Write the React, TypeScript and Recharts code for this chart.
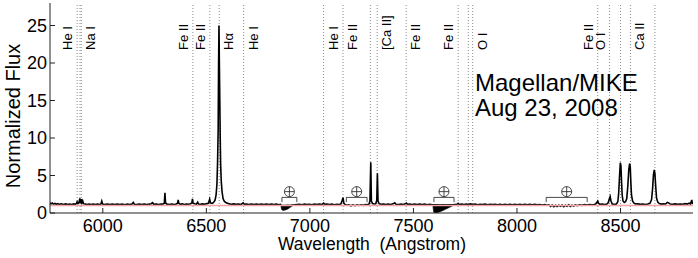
import { ComposedChart, Line, Area, XAxis, YAxis, ReferenceLine, ReferenceDot } from "recharts";

const FONT = "'Liberation Sans', Arial, Helvetica, sans-serif";

// spectrum, wavelength (Angstrom) and normalized flux
const specWave = [
  5745, 5750, 5756, 5762, 5769, 5776, 5783, 5791, 5800, 5810,
  5820, 5830, 5840, 5850, 5860, 5868, 5873, 5876, 5880, 5885,
  5889, 5892, 5896, 5899, 5903, 5907, 5914, 5924, 5934, 5944,
  5954, 5964, 5974, 5984, 5991, 5995, 5999, 6010, 6022, 6034,
  6046, 6058, 6070, 6082, 6094, 6106, 6118, 6130, 6141, 6147,
  6152, 6164, 6176, 6188, 6200, 6212, 6224, 6234, 6240, 6246,
  6258, 6270, 6282, 6292, 6297, 6300, 6303, 6310, 6321, 6332,
  6344, 6355, 6361, 6364, 6367, 6374, 6384, 6394, 6404, 6414,
  6424, 6430, 6433, 6436, 6443, 6452, 6458, 6462, 6472, 6482,
  6492, 6502, 6510, 6516, 6520, 6528, 6535, 6542, 6547, 6551,
  6554, 6557, 6559, 6561, 6563, 6565, 6567, 6569, 6572, 6576,
  6581, 6587, 6594, 6602, 6611, 6621, 6632, 6644, 6656, 6668,
  6678, 6683, 6694, 6706, 6718, 6730, 6742, 6754, 6766, 6778,
  6790, 6802, 6814, 6826, 6838, 6850, 6858, 6864, 6870, 6880,
  6892, 6904, 6916, 6926, 6938, 6950, 6962, 6974, 6986, 6998,
  7010, 7022, 7034, 7046, 7058, 7066, 7071, 7082, 7094, 7106,
  7118, 7130, 7142, 7150, 7155, 7160, 7164, 7170, 7178, 7188,
  7198, 7208, 7218, 7228, 7238, 7248, 7258, 7268, 7278, 7286,
  7290, 7294, 7297, 7302, 7310, 7318, 7323, 7326, 7329, 7335,
  7345, 7356, 7367, 7378, 7390, 7402, 7410, 7416, 7428, 7440,
  7451, 7461, 7466, 7471, 7482, 7494, 7506, 7518, 7530, 7542,
  7554, 7566, 7578, 7590, 7600, 7615, 7630, 7645, 7660, 7675,
  7690, 7700, 7710, 7716, 7721, 7732, 7744, 7756, 7766, 7776,
  7786, 7798, 7810, 7822, 7834, 7846, 7858, 7870, 7882, 7894,
  7906, 7918, 7930, 7942, 7954, 7966, 7978, 7990, 8002, 8014,
  8026, 8038, 8050, 8062, 8074, 8086, 8098, 8110, 8122, 8134,
  8144, 8154, 8162, 8170, 8178, 8186, 8194, 8202, 8210, 8218,
  8226, 8234, 8242, 8250, 8258, 8266, 8274, 8282, 8292, 8302,
  8314, 8326, 8338, 8350, 8362, 8372, 8380, 8386, 8390, 8394,
  8400, 8412, 8424, 8434, 8441, 8446, 8450, 8454, 8460, 8470,
  8480, 8487, 8491, 8495, 8499, 8502, 8505, 8508, 8512, 8518,
  8524, 8530, 8535, 8540, 8544, 8547, 8550, 8553, 8558, 8564,
  8572, 8584, 8596, 8608, 8620, 8632, 8642, 8650, 8655, 8659,
  8663, 8666, 8670, 8674, 8680, 8687, 8697, 8708, 8718, 8726,
  8732, 8740, 8752, 8764, 8776, 8788, 8800, 8812, 8822, 8832,
  8838, 8844, 8847, 8850,
];
const specFlux = [
  1.38, 1.22, 1.32, 1.18, 1.27, 1.16, 1.24, 1.15, 1.23, 1.14,
  1.21, 1.13, 1.2, 1.14, 1.21, 1.16, 1.3, 1.5, 1.24, 1.38,
  1.95, 1.3, 1.85, 1.35, 1.62, 1.24, 1.19, 1.12, 1.2, 1.14,
  1.2, 1.12, 1.18, 1.13, 1.2, 1.58, 1.18, 1.13, 1.2, 1.12,
  1.18, 1.13, 1.2, 1.12, 1.18, 1.11, 1.19, 1.13, 1.2, 1.42,
  1.17, 1.12, 1.19, 1.13, 1.2, 1.12, 1.18, 1.24, 1.38, 1.16,
  1.2, 1.12, 1.18, 1.21, 1.3, 2.7, 1.35, 1.18, 1.13, 1.2,
  1.14, 1.2, 1.3, 1.75, 1.3, 1.16, 1.22, 1.14, 1.2, 1.16,
  1.22, 1.35, 1.9, 1.3, 1.24, 1.18, 1.45, 1.2, 1.15, 1.22,
  1.17, 1.25, 1.3, 1.85, 1.35, 1.28, 1.4, 1.7, 2.4, 3.8,
  6.5, 11, 19.5, 25, 19.6, 15, 10, 6.5, 4.2, 2.8,
  1.9, 1.55, 1.4, 1.3, 1.22, 1.17, 1.22, 1.15, 1.2, 1.14,
  1.36, 1.17, 1.2, 1.13, 1.19, 1.14, 1.2, 1.13, 1.18, 1.12,
  1.18, 1.13, 1.2, 1.14, 1.18, 1.11, 1.15, 0.95, 1.0, 0.98,
  1.02, 1.0, 1.05, 1.08, 1.12, 1.15, 1.11, 1.18, 1.12, 1.17,
  1.11, 1.18, 1.13, 1.19, 1.13, 1.32, 1.15, 1.18, 1.12, 1.18,
  1.11, 1.17, 1.12, 1.2, 1.6, 2.05, 1.3, 1.12, 1.02, 1.1,
  0.96, 1.08, 0.98, 1.1, 1.0, 1.1, 1.02, 1.12, 1.1, 1.2,
  1.6, 6.75, 1.6, 1.25, 1.2, 1.24, 1.7, 5.3, 1.6, 1.22,
  1.16, 1.2, 1.13, 1.19, 1.14, 1.22, 1.35, 1.17, 1.14, 1.2,
  1.13, 1.22, 1.32, 1.15, 1.2, 1.12, 1.18, 1.13, 1.2, 1.13,
  1.18, 1.11, 1.16, 1.1, 1.08, 1.1, 1.06, 1.1, 1.07, 1.1,
  1.08, 1.12, 1.16, 1.3, 1.14, 1.19, 1.13, 1.18, 1.12, 1.21,
  1.13, 1.18, 1.11, 1.17, 1.12, 1.18, 1.11, 1.17, 1.12, 1.16,
  1.1, 1.16, 1.11, 1.17, 1.1, 1.16, 1.11, 1.17, 1.1, 1.15,
  1.09, 1.15, 1.1, 1.16, 1.09, 1.15, 1.08, 1.14, 1.07, 1.13,
  1.04, 1.1, 0.88, 1.05, 0.84, 1.02, 0.87, 1.05, 0.9, 1.06,
  0.85, 1.04, 0.91, 1.08, 0.88, 1.05, 0.92, 1.08, 0.98, 1.1,
  1.02, 1.12, 1.05, 1.13, 1.08, 1.14, 1.2, 1.42, 1.6, 1.3,
  1.15, 1.2, 1.13, 1.2, 1.4, 1.9, 2.2, 1.6, 1.2, 1.15,
  1.2, 1.5, 2.6, 4.8, 6.7, 6.3, 4.2, 2.4, 1.6, 1.4,
  1.5, 1.9, 3.5, 5.8, 6.6, 6.2, 4.0, 2.4, 1.6, 1.35,
  1.2, 1.22, 1.15, 1.2, 1.13, 1.2, 1.3, 1.8, 3.3, 5.1,
  5.75, 5.3, 3.5, 2.0, 1.45, 1.25, 1.18, 1.22, 1.2, 1.42,
  1.35, 1.2, 1.15, 1.22, 1.15, 1.2, 1.17, 1.25, 1.19, 1.3,
  1.2, 1.75, 1.3, 1.2,
];

// fitted continuum (pink)
const contWave = [5745, 8850];
const contFlux = [1.0, 1.0];

// telluric absorption bands, lower / upper envelope of the noisy trace
const bandAWave = [6860, 6864, 6870, 6878, 6886, 6894, 6902, 6910, 6918];
const bandALo = [0.9, 0.45, 0.35, 0.38, 0.45, 0.55, 0.7, 0.85, 1.0];
const bandAHi = [1.05, 1.0, 1.0, 1.0, 1.0, 1.02, 1.02, 1.05, 1.08];
const bandBWave = [7594, 7598, 7604, 7614, 7626, 7640, 7655, 7670, 7685, 7698];
const bandBLo = [0.9, 0.1, 0.0, 0.05, 0.15, 0.3, 0.5, 0.7, 0.9, 1.08];
const bandBHi = [1.1, 1.1, 1.08, 1.1, 1.08, 1.1, 1.08, 1.1, 1.1, 1.12];

// telluric markers (brackets with earth symbol)
const tellStart = [6865, 7176, 7599, 8141];
const tellEnd = [6937, 7276, 7696, 8339];
const tellBarY = 2.08;
const tellFootY = 1.45;
const tellSymY = 2.85;

// line identifications
const lineWaves = [
  5876, 5890, 5896, 6435, 6517, 6562, 6680, 7066, 7160, 7292,
  7325, 7465, 7716, 7765, 7786, 8390, 8447, 8500, 8548, 8666,
];
const tagText = [
  "He I", "Na I", "Fe II", "Fe II", "Hα", "He I", "He I", "Fe II",
  "[Ca II]", "Fe II", "Fe II", "O I", "Fe II", "O I", "Ca II",
];
const tagWave = [
  5876, 5896, 6435, 6517, 6562, 6680, 7066, 7160,
  7325, 7465, 7716, 7786, 8390, 8447, 8548,
];
const tagSide = [-1, 1, -1, -1, 1, 1, 1, 1, 1, 1, -1, 1, -1, -1, 1];

const xTicks = [6000, 6500, 7000, 7500, 8000, 8500];
const yTicks = [0, 5, 10, 15, 20, 25];

type Row = { w: number; flux?: number; cont?: number; bandA?: number[]; bandB?: number[] };

function buildRows(): Row[] {
  const byW = new Map<number, Row>();
  const get = (w: number) => {
    const r = byW.get(w) ?? { w };
    byW.set(w, r);
    return r;
  };
  specWave.forEach((w, i) => (get(w).flux = specFlux[i]));
  contWave.forEach((w, i) => (get(w).cont = contFlux[i]));
  bandAWave.forEach((w, i) => (get(w).bandA = [bandALo[i], bandAHi[i]]));
  bandBWave.forEach((w, i) => (get(w).bandB = [bandBLo[i], bandBHi[i]]));
  return Array.from(byW.values()).sort((a, b) => a.w - b.w);
}

const rows = buildRows();

const AXIS = "#222";
const BRACKET = "#333";

function tagLabel(text: string, side: number) {
  return (props: any) => {
    const vb = props.viewBox || {};
    const x = (vb.x ?? 0) + side * 9.5;
    const y = 50;
    return (
      <text
        x={x}
        y={y}
        transform={`rotate(-90 ${x} ${y})`}
        textAnchor="start"
        dominantBaseline="central"
        fontSize={13}
        fontFamily={FONT}
        fill="#000"
      >
        {text}
      </text>
    );
  };
}

function Earth(props: any) {
  const { cx, cy } = props;
  if (cx == null || cy == null) return null;
  const r = 5;
  return (
    <g stroke={BRACKET} strokeWidth={0.9} fill="none">
      <circle cx={cx} cy={cy} r={r} />
      <line x1={cx - r} y1={cy} x2={cx + r} y2={cy} />
      <line x1={cx} y1={cy - r} x2={cx} y2={cy + r} />
    </g>
  );
}

export default function App() {
  return (
    <div style={{ position: "absolute", left: 0, top: 0, width: 698, height: 258, background: "#fff" }}>
      <ComposedChart
        width={698}
        height={258}
        data={rows}
        margin={{ top: 3, right: 5, left: 0, bottom: 0 }}
      >
        <XAxis
          dataKey="w"
          type="number"
          domain={[5745, 8850]}
          allowDataOverflow
          ticks={xTicks}
          interval={0}
          height={45}
          tickSize={-5}
          tickMargin={11}
          stroke={AXIS}
          tick={{ fontSize: 18, fill: "#000", fontFamily: FONT }}
        />
        <XAxis
          xAxisId="top"
          orientation="top"
          type="number"
          domain={[5745, 8850]}
          allowDataOverflow
          ticks={xTicks}
          interval={0}
          height={0}
          tickSize={-5}
          tick={false}
          stroke={AXIS}
        />
        <YAxis
          type="number"
          domain={[0, 28]}
          allowDataOverflow
          ticks={yTicks}
          interval={0}
          width={50}
          tickSize={-5}
          tickMargin={8}
          stroke={AXIS}
          tick={{ fontSize: 18, fill: "#000", fontFamily: FONT }}
        />
        <YAxis
          yAxisId="right"
          orientation="right"
          type="number"
          domain={[0, 28]}
          allowDataOverflow
          ticks={yTicks}
          interval={0}
          width={0}
          tickSize={-5}
          tick={false}
          stroke={AXIS}
        />

        {lineWaves.map((w, i) => (
          <ReferenceLine
            key={`l${i}`}
            x={w}
            stroke="#8a8a8a"
            strokeWidth={1}
            strokeDasharray="1 2"
          />
        ))}
        {tagWave.map((w, i) => (
          <ReferenceLine
            key={`t${i}`}
            x={w}
            stroke="none"
            label={tagLabel(tagText[i], tagSide[i])}
          />
        ))}

        <Area
          dataKey="bandA"
          type="linear"
          stroke="#000"
          strokeWidth={0.6}
          fill="#000"
          fillOpacity={1}
          connectNulls
          dot={false}
          activeDot={false}
          isAnimationActive={false}
        />
        <Area
          dataKey="bandB"
          type="linear"
          stroke="#000"
          strokeWidth={0.6}
          fill="#000"
          fillOpacity={1}
          connectNulls
          dot={false}
          activeDot={false}
          isAnimationActive={false}
        />
        <Line
          dataKey="flux"
          type="linear"
          stroke="#000"
          strokeWidth={1.6}
          dot={false}
          activeDot={false}
          connectNulls
          isAnimationActive={false}
        />
        <Line
          dataKey="cont"
          type="linear"
          stroke="#f2a3a3"
          strokeWidth={1.3}
          dot={false}
          activeDot={false}
          connectNulls
          isAnimationActive={false}
        />

        {tellStart.map((a, i) => (
          <ReferenceLine
            key={`tb${i}`}
            segment={[
              { x: a, y: tellBarY },
              { x: tellEnd[i], y: tellBarY },
            ]}
            stroke={BRACKET}
            strokeWidth={0.9}
          />
        ))}
        {tellStart.map((a, i) => (
          <ReferenceLine
            key={`ts${i}`}
            segment={[
              { x: a, y: tellBarY },
              { x: a, y: tellFootY },
            ]}
            stroke={BRACKET}
            strokeWidth={0.9}
          />
        ))}
        {tellEnd.map((b, i) => (
          <ReferenceLine
            key={`te${i}`}
            segment={[
              { x: b, y: tellBarY },
              { x: b, y: tellFootY },
            ]}
            stroke={BRACKET}
            strokeWidth={0.9}
          />
        ))}
        {tellStart.map((a, i) => (
          <ReferenceDot
            key={`td${i}`}
            x={(a + tellEnd[i]) / 2}
            y={tellSymY}
            r={5}
            shape={Earth}
          />
        ))}
      </ComposedChart>

      <svg
        width={698}
        height={258}
        style={{ position: "absolute", left: 0, top: 0, pointerEvents: "none" }}
      >
        <text
          x={20}
          y={116}
          transform="rotate(-90 20 116)"
          textAnchor="middle"
          fontSize={20}
          fontFamily={FONT}
          fill="#000"
        >
          Normalized Flux
        </text>
        <text
          x={372}
          y={250}
          textAnchor="middle"
          fontSize={17.5}
          fontFamily={FONT}
          fill="#000"
          style={{ whiteSpace: "pre" }}
        >
          {"Wavelength  (Angstrom)"}
        </text>
        <text x={475} y={91} fontSize={24} fontFamily={FONT} fill="#000">
          Magellan/MIKE
        </text>
        <text x={475} y={116} fontSize={24} fontFamily={FONT} fill="#000">
          Aug 23, 2008
        </text>
      </svg>
    </div>
  );
}
